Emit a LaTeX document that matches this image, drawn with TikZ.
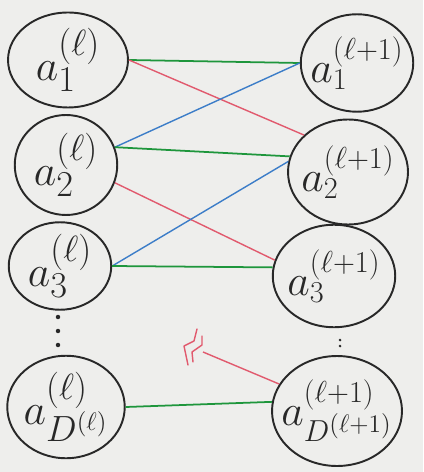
\documentclass[tikz,border=0pt]{standalone}
\usetikzlibrary{shapes.geometric}
\definecolor{ink}{RGB}{40,40,40}
\definecolor{paper}{RGB}{238,238,236}
\definecolor{lgreen}{RGB}{30,150,60}
\definecolor{lred}{RGB}{225,90,110}
\definecolor{lblue}{RGB}{60,125,200}
\begin{document}
\begin{tikzpicture}[x=0.02cm,y=-0.02cm,
  unit/.style={ellipse,draw=ink,line width=1.1pt,inner sep=0pt},
  lab/.style={inner sep=0pt,font=\fontsize{31}{33}\selectfont,text=ink},
  labr/.style={inner sep=0pt,font=\fontsize{27}{29}\selectfont,text=ink},
  gline/.style={lgreen,line width=1pt},
  rline/.style={lred,line width=0.8pt},
  bline/.style={lblue,line width=0.8pt}]
\fill[paper] (0,0) rectangle (423,472);
\useasboundingbox (0,0) rectangle (423,472);
% left column
\node[unit,minimum width=2.4cm,minimum height=1.9cm,label={[lab]center:$a^{(\ell)}_{1}$}] (L1) at (68,60) {};
\node[unit,minimum width=2.05cm,minimum height=2.0cm,label={[lab]center:$a^{(\ell)}_{2}$}] (L2) at (66,165) {};
\node[unit,minimum width=2.05cm,minimum height=1.75cm,label={[lab]center:$a^{(\ell)}_{3}$}] (L3) at (60,266) {};
\node[unit,minimum width=2.35cm,minimum height=2.05cm,label={[lab]center:$a^{(\ell)}_{D^{(\ell)}}$}] (L4) at (66,407) {};
% right column
\node[unit,minimum width=2.25cm,minimum height=1.95cm,label={[labr]center:$a^{(\ell+1)}_{1}$}] (R1) at (357,63) {};
\node[unit,minimum width=2.4cm,minimum height=2.1cm,label={[labr]center:$a^{(\ell+1)}_{2}$}] (R2) at (348,172) {};
\node[unit,minimum width=2.45cm,minimum height=2.05cm,label={[labr]center:$a^{(\ell+1)}_{3}$}] (R3) at (334,276) {};
\node[unit,minimum width=2.6cm,minimum height=2.2cm,label={[labr]center:$a^{(\ell+1)}_{D^{(\ell+1)}}$}] (R4) at (337,411) {};
% vertical dots
\node[circle,fill=ink,inner sep=0.9pt] (d1) at (58,317) {};
\node[circle,fill=ink,inner sep=0.9pt] (d2) at (58,331) {};
\node[circle,fill=ink,inner sep=0.9pt] (d3) at (58,345) {};
\node[circle,fill=ink,inner sep=0.6pt] (e1) at (340,340) {};
\node[circle,fill=ink,inner sep=0.6pt] (e2) at (340,346) {};
% connectors
\draw[gline] (L1.east) -- (R1.west);
\draw[rline] (L1.east) -- (R2.140);
\draw[bline] (L2.20) -- (R1.west);
\draw[gline] (L2.20) -- (R2.165);
\draw[rline] (L2.-20) -- (R3.165);
\draw[bline] (L3.east) -- (R2.170);
\draw[gline] (L3.east) -- (R3.172);
\draw[gline] (L4.east) -- (R4.172);
\coordinate (c) at (203,352);
\draw[rline] (R4.155) -- (c);
\draw[rline,line cap=round,line join=round] (188,365) -- (184,346) -- (194,341) -- (197,329);
\draw[rline,line cap=round,line join=round] (193,362) -- (192,352) -- (202,345) -- (202,336);
\end{tikzpicture}
\end{document}
